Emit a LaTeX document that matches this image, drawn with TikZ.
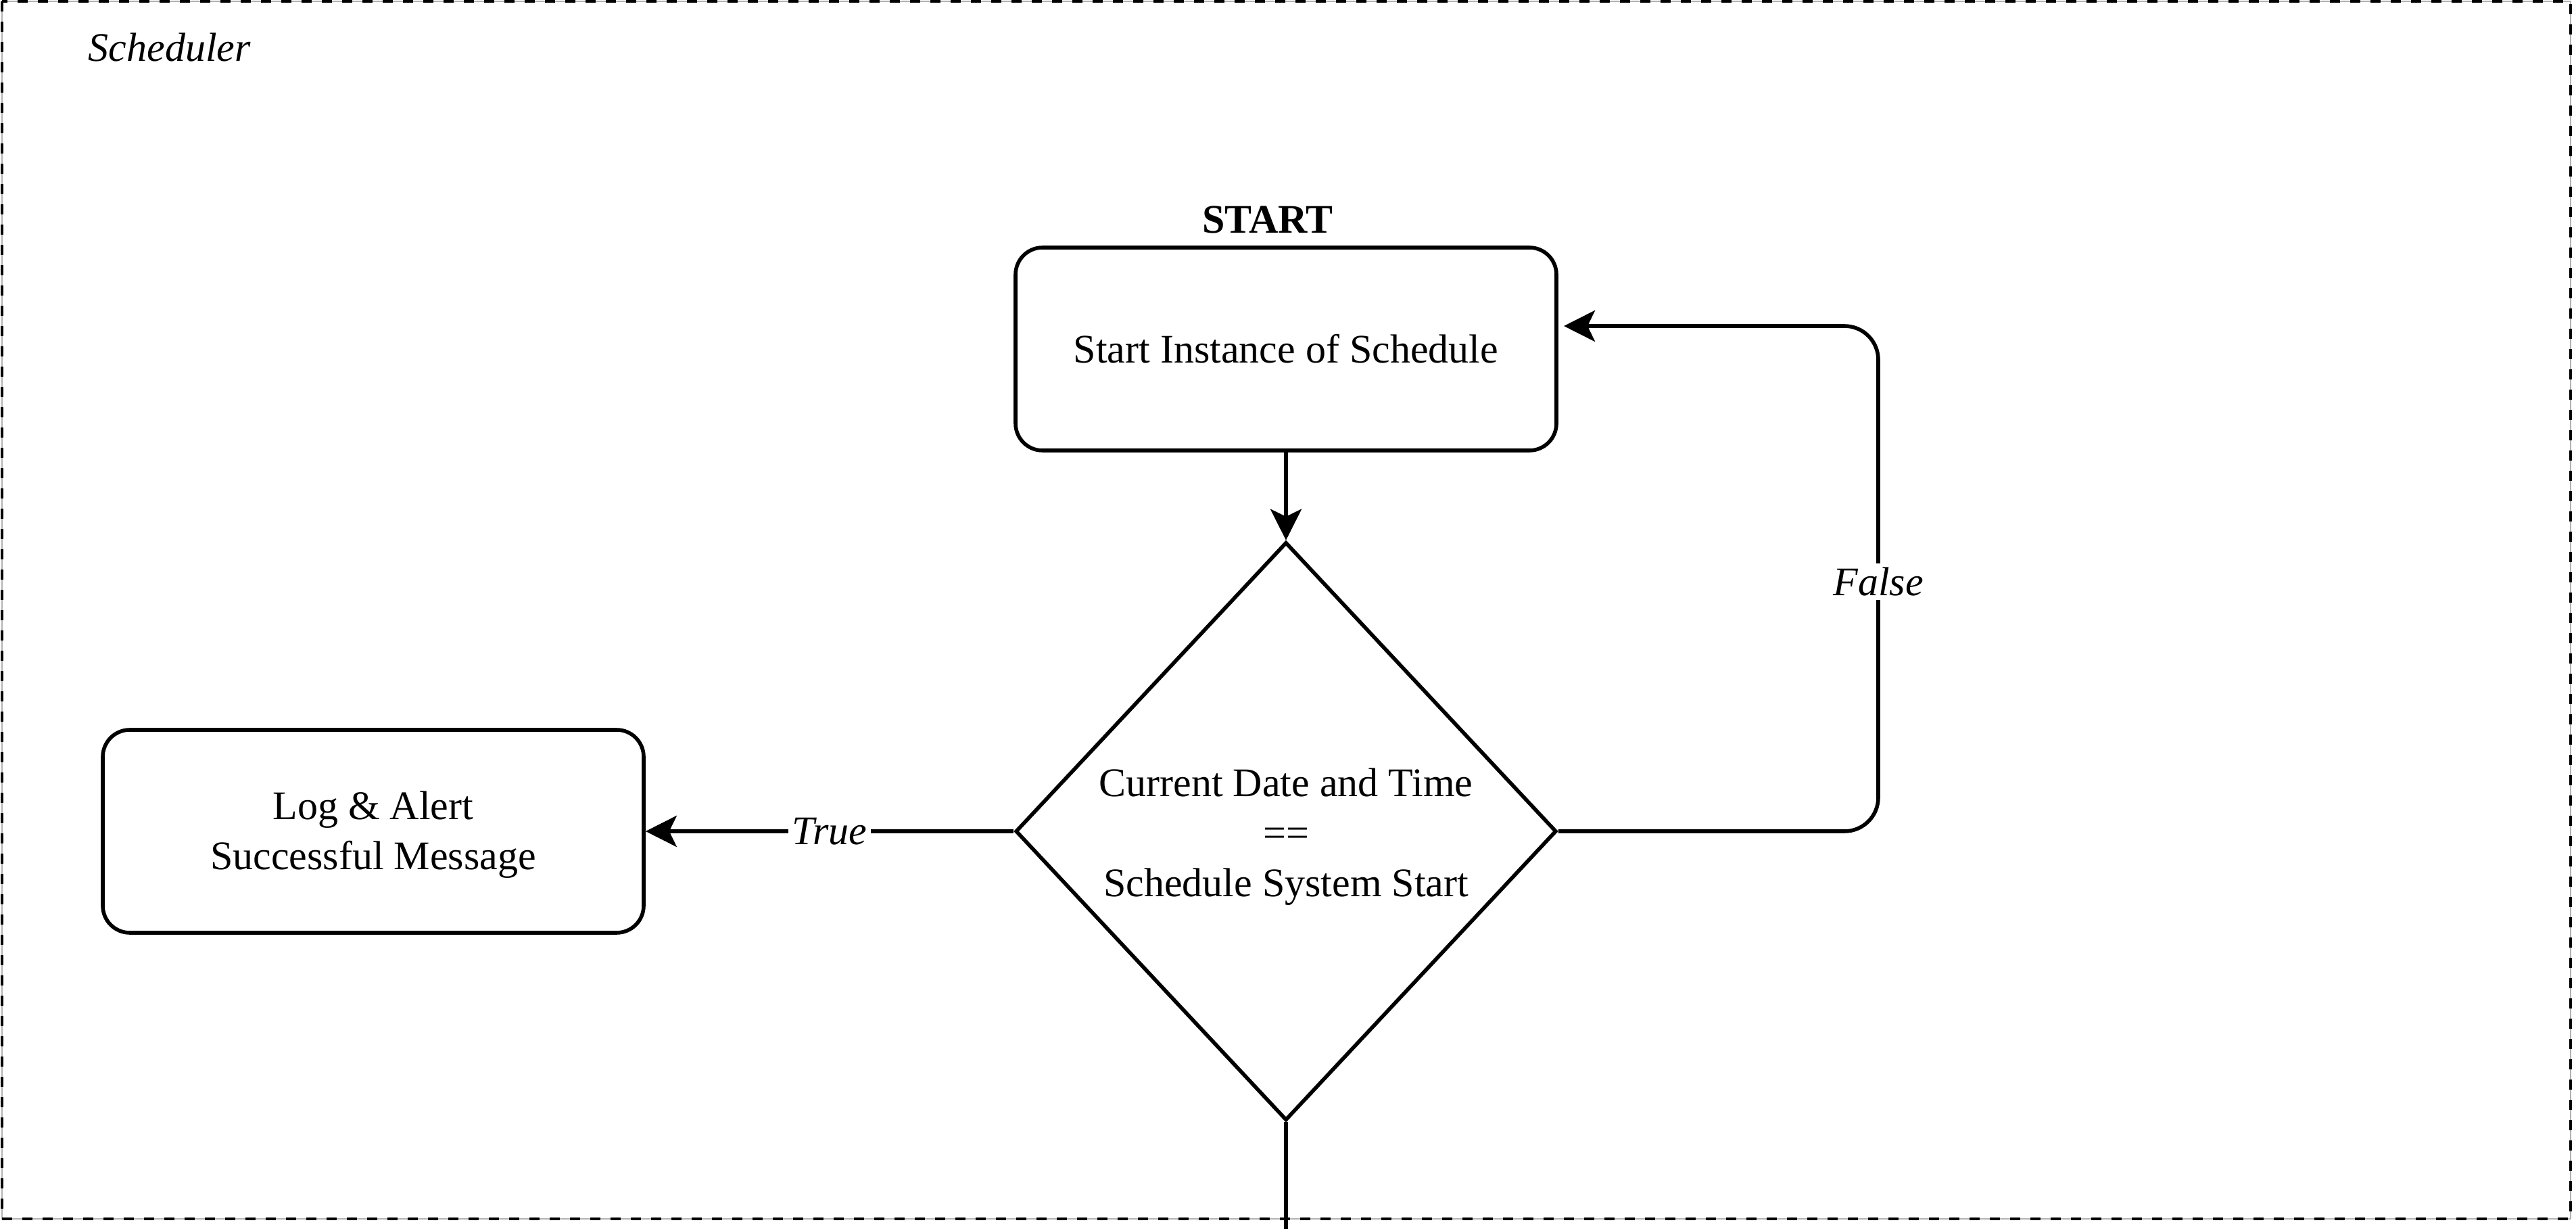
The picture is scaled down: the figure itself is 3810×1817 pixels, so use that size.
\documentclass[tikz,border=0pt]{standalone}
\usepackage{fontspec}
\setmainfont{Liberation Serif}
\usetikzlibrary{shapes.geometric,arrows.meta,calc}
\begin{document}
\begin{tikzpicture}[x=0.25pt,y=-0.25pt,
  every node/.style={font=\fontsize{15}{18.5}\selectfont},
  conn/.style={line width=1.4pt},
  arr/.style={conn,-{Stealth[length=11.5pt,width=11.5pt,inset=2.75pt]}},
  procbox/.style={draw,line width=1.4pt,rounded corners=10pt,minimum width=200pt,minimum height=75pt,inner sep=0pt,align=center},
  decbox/.style={draw,line width=1.4pt,shape=diamond,aspect=0.94,minimum width=200pt,minimum height=213.75pt,inner sep=0pt,align=center},
  lbl/.style={fill=white,inner sep=1.5pt,font=\fontsize{15}{18.5}\selectfont\itshape},
  framebg/.style={draw=gray!60,line width=0.3pt},
  framefg/.style={draw=black,line width=1.2pt,dash pattern=on 3.75pt off 3.75pt}]
\useasboundingbox (0,0) rectangle (3810,1817);
% frame
\draw[framebg] (3,2) rectangle (3802,1802);
\draw[framefg] (3,2) rectangle (3802,1802);
\node[anchor=base west,inner sep=0pt,font=\fontsize{15}{18.5}\selectfont\itshape] (sch) at (130,91) {Scheduler};
% nodes
\node[anchor=base,inner sep=0pt,font=\fontsize{15}{18.5}\selectfont\bfseries] (stlbl) at (1875,345) {START};
\node[procbox] (start) at (1902,516) {Start Instance of Schedule};
\node[decbox] (dec) at (1902,1229) {\raisebox{-1.8pt}[\height][\depth]{\begin{tabular}{@{}c@{}}Current Date and Time\\==\\Schedule System Start\end{tabular}}};
\node[procbox] (log) at (552,1229) {\raisebox{-1.2pt}[\height][\depth]{\begin{tabular}{@{}c@{}}Log \& Alert\\Successful Message\end{tabular}}};
% connectors
\coordinate (fc) at (2778,482);
\coordinate (ft) at (2313,482);
\coordinate (bend) at (1902,1817);
\draw[arr] (start.south) -- (dec.north);
\draw[arr] (dec.west) -- node[lbl] (tlbl) {True} (log.east);
\draw[arr,rounded corners=12.5pt] (dec.east) -| (fc) -- (ft);
\node[lbl] (flbl) at (2778,860) {False};
\draw[conn] (dec.south) -- (bend);
\end{tikzpicture}
\end{document}
